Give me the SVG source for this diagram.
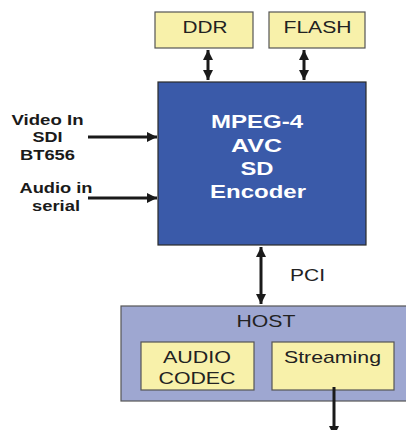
<svg xmlns="http://www.w3.org/2000/svg" width="406" height="430" viewBox="0 0 406 430">
  <defs>
    <marker id="head" markerUnits="userSpaceOnUse" markerWidth="12" markerHeight="12" viewBox="0 0 12 12" refX="10" refY="6" orient="auto-start-reverse">
      <path d="M0,1 L10,6 L0,11 Z" fill="#1a1a1a"/>
    </marker>
    <style>
      .mem { fill: #f8f1aa; stroke: #555; stroke-width: 1.2; }
      .enc { fill: #3a5aa9; stroke: #2a2a2a; stroke-width: 1.2; }
      .host { fill: #9ea7d1; stroke: #555; stroke-width: 1.2; }
      .t { font-family: "Liberation Sans", Arial, sans-serif; fill: #222; text-anchor: middle; }
      .w { font-family: "Liberation Sans", Arial, sans-serif; fill: #fff; font-weight: bold; text-anchor: middle; font-size: 18px; }
      .b { font-family: "Liberation Sans", Arial, sans-serif; fill: #1a1a1a; font-weight: bold; text-anchor: middle; font-size: 15px; }
      .wire { stroke: #1a1a1a; stroke-width: 3; fill: none; }
    </style>
  </defs>

  <g id="ddr">
    <rect class="mem" x="155" y="12" width="98" height="36"/>
    <text class="t" x="205" y="33" font-size="16" textLength="45" lengthAdjust="spacingAndGlyphs">DDR</text>
  </g>

  <g id="flash">
    <rect class="mem" x="269" y="12" width="96" height="36"/>
    <text class="t" x="317.5" y="33" font-size="16" textLength="68" lengthAdjust="spacingAndGlyphs">FLASH</text>
  </g>

  <g id="encoder">
    <rect class="enc" x="158" y="82" width="208" height="163"/>
    <text class="w" x="257" y="128" textLength="92" lengthAdjust="spacingAndGlyphs">MPEG-4</text>
    <text class="w" x="256.5" y="152" textLength="51" lengthAdjust="spacingAndGlyphs">AVC</text>
    <text class="w" x="257" y="175" textLength="33" lengthAdjust="spacingAndGlyphs">SD</text>
    <text class="w" x="258" y="198" textLength="96" lengthAdjust="spacingAndGlyphs">Encoder</text>
  </g>

  <g id="video-in">
    <text class="b" x="47.5" y="125" textLength="72" lengthAdjust="spacingAndGlyphs">Video In</text>
    <text class="b" x="47.5" y="142" textLength="30" lengthAdjust="spacingAndGlyphs">SDI</text>
    <text class="b" x="47.5" y="160" textLength="55" lengthAdjust="spacingAndGlyphs">BT656</text>
  </g>

  <g id="audio-in">
    <text class="b" x="56" y="193" textLength="73" lengthAdjust="spacingAndGlyphs">Audio in</text>
    <text class="b" x="56" y="211" textLength="48" lengthAdjust="spacingAndGlyphs">serial</text>
  </g>

  <g id="pci-label">
    <text class="t" x="307.5" y="281" font-size="17" textLength="35" lengthAdjust="spacingAndGlyphs">PCI</text>
  </g>

  <g id="host">
    <rect class="host" x="121" y="306" width="290" height="95"/>
    <text class="t" x="266" y="327" font-size="17" textLength="59" lengthAdjust="spacingAndGlyphs">HOST</text>
  </g>

  <g id="audio-codec">
    <rect class="mem" x="141" y="342" width="113" height="48"/>
    <text class="t" x="197" y="363" font-size="17" textLength="68" lengthAdjust="spacingAndGlyphs">AUDIO</text>
    <text class="t" x="197" y="384" font-size="17" textLength="77" lengthAdjust="spacingAndGlyphs">CODEC</text>
  </g>

  <g id="streaming">
    <rect class="mem" x="272" y="342" width="122" height="48"/>
    <text class="t" x="332.5" y="363" font-size="17" textLength="97" lengthAdjust="spacingAndGlyphs">Streaming</text>
  </g>

  <!-- connectors are drawn last so the stream output shows over its box -->
  <g id="connectors">
    <line class="wire" x1="208" y1="50" x2="208" y2="80" marker-start="url(#head)" marker-end="url(#head)"/>
    <line class="wire" x1="304" y1="50" x2="304" y2="80" marker-start="url(#head)" marker-end="url(#head)"/>
    <line class="wire" x1="88" y1="137" x2="157" y2="137" marker-end="url(#head)"/>
    <line class="wire" x1="88" y1="198" x2="157" y2="198" marker-end="url(#head)"/>
    <line class="wire" x1="261" y1="247" x2="261" y2="304" marker-start="url(#head)" marker-end="url(#head)"/>
    <line class="wire" x1="334" y1="387" x2="334" y2="436" marker-end="url(#head)"/>
  </g>
</svg>
